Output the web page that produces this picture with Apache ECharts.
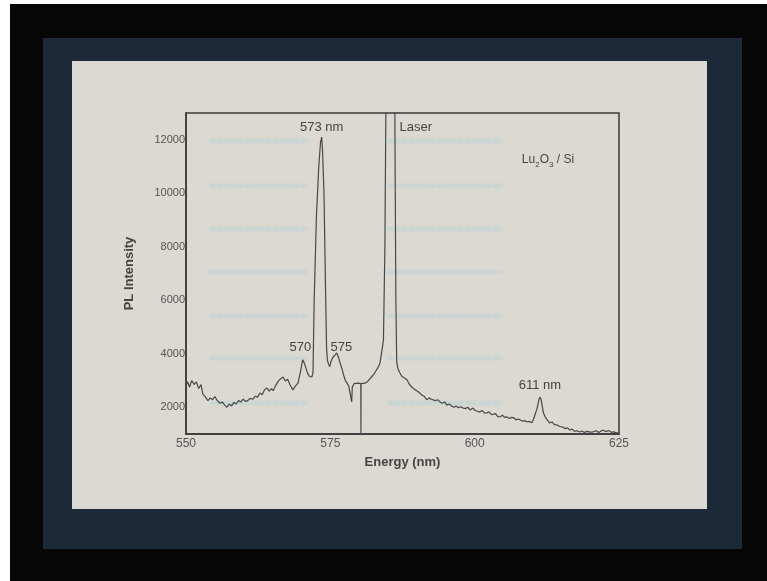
<!DOCTYPE html>
<html>
<head>
<meta charset="utf-8">
<script src="https://cdn.jsdelivr.net/npm/echarts@6/dist/echarts.min.js"></script>
<style>
  html, body { margin: 0; padding: 0; background: #ffffff; }
  #stage { position: absolute; left: 0; top: 0; width: 767px; height: 581px; overflow: hidden; }
  #black { position: absolute; left: 10px; top: 4px; width: 757px; height: 577px; background: #060606; }
  #navy { position: absolute; left: 43px; top: 38px; width: 699px; height: 511px; background: #1c2939; }
  #slide { position: absolute; left: 72px; top: 61px; width: 635px; height: 448px; background: #dcd8d2; }
  .ghost { position: absolute; height: 4px;
    background: repeating-linear-gradient(90deg, rgba(150,205,215,0.35) 0px, rgba(150,205,215,0.35) 5px, rgba(150,205,215,0.12) 5px, rgba(150,205,215,0.12) 7px);
    filter: blur(0.8px); }
  #chart { position: absolute; left: 0; top: 0; width: 767px; height: 581px; }
</style>
</head>
<body>
<div id="stage">
  <div id="black"></div>
  <div id="navy"></div>
  <div id="slide"></div>
  <div id="ghosts"></div>
  <div id="chart"></div>
</div>
<script>
// ---- data ----
const energies = [
  550.0,550.3,550.6,551.0,551.4,551.8,552.2,552.6,552.9,553.3,553.8,554.2,554.6,555.0,555.4,555.9,556.3,556.7,557.1,557.5,
  557.9,558.3,558.7,559.1,559.5,559.9,560.3,560.7,561.1,561.6,562.0,562.4,562.8,563.2,563.6,564.0,564.4,564.8,565.1,565.5,
  565.9,566.3,566.8,567.2,567.6,568.0,568.5,568.9,569.4,569.8,570.2,570.5,570.8,571.1,571.4,571.8,572.0,572.2,572.6,573.0,
  573.3,573.5,573.65,573.9,574.05,574.2,574.35,574.5,574.7,574.9,575.1,575.4,575.8,576.1,576.4,576.7,577.0,577.3,577.6,577.9,
  578.2,578.5,578.7,578.8,579.1,579.4,579.8,580.1,580.28,580.30,580.32,580.6,581.0,581.4,581.8,582.2,582.6,583.0,583.3,583.6,
  583.9,584.2,584.45,584.65,585.0,585.8,586.15,586.35,586.5,586.7,587.0,587.4,587.8,588.3,588.7,589.0,589.3,589.7,590.1,590.5,
  590.9,591.3,591.7,592.1,592.5,592.8,593.2,593.6,594.0,594.4,594.8,595.2,595.6,596.0,596.4,596.8,597.2,597.6,598.0,598.4,
  598.8,599.2,599.7,600.1,600.5,600.9,601.3,601.7,602.1,602.5,602.9,603.2,603.6,604.0,604.4,604.8,605.2,605.6,606.0,606.4,
  606.8,607.2,607.6,607.9,608.3,608.7,609.1,609.5,609.9,610.2,610.5,610.8,611.1,611.3,611.5,611.7,611.9,612.2,612.6,613.0,
  613.4,613.8,614.3,614.7,615.0,615.3,615.7,616.1,616.5,616.9,617.3,617.7,618.2,618.6,619.0,619.5,620.0,620.5,621.0,621.5,
  622.2,622.7,623.2,623.6,624.0,624.5,625.0
];
const intensities = [
  2800,2950,2750,3000,2850,2950,2700,2850,2500,2400,2250,2350,2280,2400,2250,2150,2200,2080,2000,2120,
  2050,2180,2120,2250,2200,2300,2220,2250,2330,2300,2420,2380,2530,2470,2650,2720,2600,2700,2620,2800,
  2950,3050,3130,2980,3050,2850,2650,2780,2900,3300,3770,3650,3700,3250,3150,3130,3300,6000,9200,11000,
  11900,12100,11600,10000,8000,6000,4200,3750,3600,3520,3700,3850,3950,4030,3880,3650,3450,3200,3000,2900,
  2780,2800,2200,2750,2880,2820,2900,2850,2880,1000,2880,2820,2900,2950,3050,3150,3250,3400,3500,3650,
  3700,4500,8000,14000,40000,40000,14000,6000,3700,3450,3300,3150,3100,3020,2850,2800,2720,2650,2600,2530,
  2450,2400,2280,2350,2300,2350,2250,2280,2200,2150,2200,2080,2120,2050,2000,2050,1980,2020,1970,1950,
  2000,1900,1970,1880,1850,1820,1880,1780,1790,1830,1720,1710,1760,1650,1640,1700,1620,1640,1580,1620,
  1600,1530,1560,1520,1480,1500,1450,1470,1420,1550,1750,1950,2250,2380,2300,2050,1800,1640,1520,1410,
  1450,1350,1340,1280,1320,1260,1200,1230,1150,1180,1100,1120,1075,1110,1060,1100,1070,1080,1120,1060,
  1150,1090,1130,1070,1080,1050,1040
];
const xTicks = [550, 575, 600, 625];
const yTicks = [2000, 4000, 6000, 8000, 10000, 12000];
const annotations = [
  { name: '573 nm', x: 573.5, y: 12450 },
  { name: 'Laser', x: 587.0, y: 12450 },
  { name: 'Lu2O3 / Si', x: 612.7, y: 11250 },
  { name: '570', x: 569.8, y: 4250 },
  { name: '575', x: 576.9, y: 4250 },
  { name: '611 nm', x: 611.3, y: 2830 }
];

// faint ghost text rows from the projected slide (decoration)
const ghostRows = [141, 186, 229, 272, 316, 358, 403];
const ghostHost = document.getElementById('ghosts');
ghostRows.forEach(function (y) {
  [[210, 98], [388, 114]].forEach(function (c) {
    const d = document.createElement('div');
    d.className = 'ghost';
    d.style.left = c[0] + 'px';
    d.style.top = (y - 2) + 'px';
    d.style.width = c[1] + 'px';
    ghostHost.appendChild(d);
  });
});

const seriesData = energies.map(function (e, i) { return [e, intensities[i]]; });
const textColor = '#454545';
const font = 'Liberation Sans';

const markData = annotations.map(function (a) {
  const isLaser = a.name === 'Laser';
  const isLu = a.name.indexOf('Lu') === 0;
  return {
    name: a.name,
    coord: [a.x, a.y],
    symbol: 'circle',
    symbolSize: 0,
    label: {
      show: true,
      position: 'inside',
      align: isLaser ? 'left' : 'center',
      formatter: isLu ? '{a|Lu}{s|2}{a|O}{s|3}{a| / Si}' : a.name,
      color: textColor,
      fontFamily: font,
      fontSize: 13,
      rich: isLu ? {
        a: { fontSize: 12, color: textColor, fontFamily: font },
        s: { fontSize: 8, color: textColor, fontFamily: font, padding: [9, 0, 0, 0] }
      } : undefined
    }
  };
});

const chart = echarts.init(document.getElementById('chart'), null, { renderer: 'canvas' });
chart.setOption({
  backgroundColor: 'transparent',
  animation: false,
  grid: {
    left: 186, top: 113, right: 148, bottom: 147,
    show: true, borderColor: '#3a3a3a', borderWidth: 1.5, backgroundColor: 'transparent'
  },
  xAxis: {
    type: 'value', min: 550, max: 625,
    name: 'Energy (nm)', nameLocation: 'middle', nameGap: 22,
    nameTextStyle: { color: textColor, fontFamily: font, fontSize: 13, fontWeight: 'bold' },
    axisLine: { show: true, onZero: false, lineStyle: { color: '#3a3a3a', width: 1.5 } },
    axisTick: { show: false },
    splitLine: { show: false },
    axisLabel: {
      customValues: xTicks, margin: 4,
      formatter: function (v) { return String(v); },
      color: '#555', fontFamily: font, fontSize: 12
    }
  },
  yAxis: {
    type: 'value', min: 1000, max: 13000,
    name: 'PL Intensity', nameLocation: 'middle', nameGap: 50, nameRotate: 90,
    nameTextStyle: { color: textColor, fontFamily: font, fontSize: 13, fontWeight: 'bold' },
    axisLine: { show: true, lineStyle: { color: '#3a3a3a', width: 1.5 } },
    axisTick: { show: false },
    splitLine: { show: false },
    axisLabel: {
      customValues: yTicks, margin: 1,
      formatter: function (v) { return String(v); },
      color: '#555', fontFamily: font, fontSize: 11
    }
  },
  series: [{
    type: 'line',
    data: seriesData,
    showSymbol: false,
    symbol: 'none',
    clip: true,
    lineStyle: { color: '#484848', width: 1.2 },
    markPoint: { data: markData, animation: false }
  }]
});
</script>
</body>
</html>
